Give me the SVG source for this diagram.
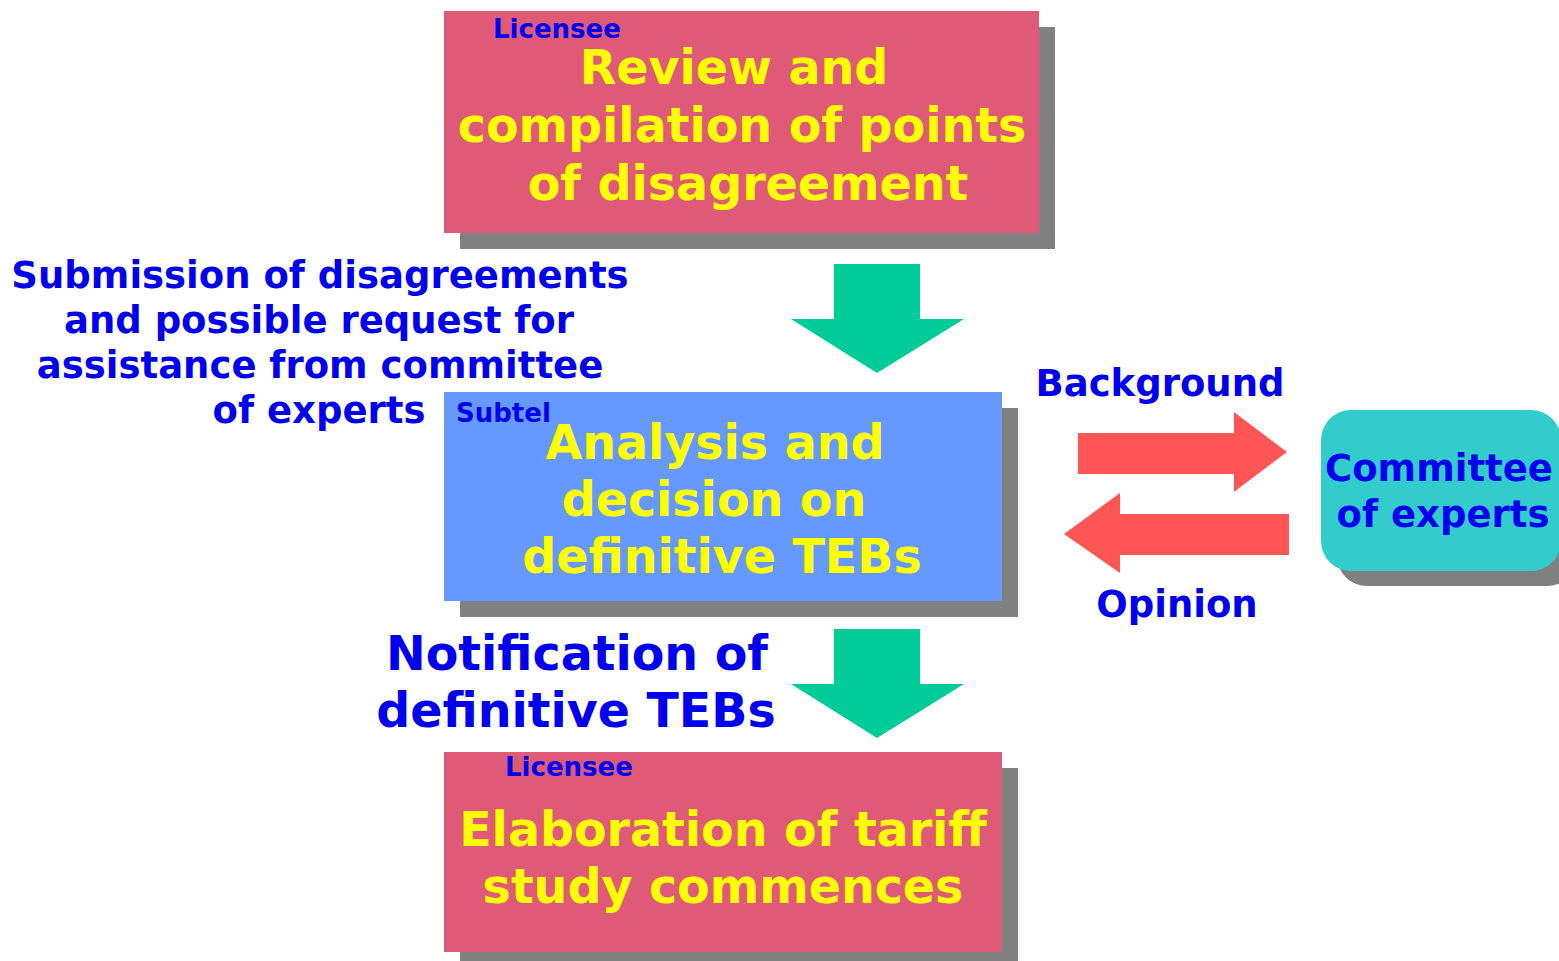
<svg xmlns="http://www.w3.org/2000/svg" width="1559" height="961" viewBox="0 0 1559 961">
<style>
.t{font-family:"DejaVu Sans","Verdana",sans-serif;font-weight:bold;}
.y{fill:#FFFF00;font-size:47.5px;text-anchor:middle;}
.b{fill:#0000EE;}
.sm{font-size:26px;}
.lb{font-size:37px;text-anchor:middle;}
.big{font-size:47.5px;text-anchor:middle;}
.sh{fill:#808080;}
.green{fill:#00CC99;}
.red{fill:#FF5555;}
</style>
<rect width="1559" height="961" fill="#FFFFFF"/>
<g id="node-review">
<rect class="sh" x="460" y="27" width="595" height="222"/>
<rect x="444" y="11" width="595" height="222" fill="#DE5A77"/>
<text class="t b sm" x="493" y="38">Licensee</text>
<text class="t y" x="734" y="84">Review and</text>
<text class="t y" x="742" y="142">compilation of points</text>
<text class="t y" x="748" y="200">of disagreement</text>
</g>
<g id="node-analysis">
<rect class="sh" x="460" y="408" width="558" height="209"/>
<rect x="444" y="392" width="558" height="209" fill="#6699FF"/>
<text class="t b sm" x="456" y="422">Subtel</text>
<text class="t y" x="715" y="459">Analysis and</text>
<text class="t y" x="714" y="516">decision on</text>
<text class="t y" x="722" y="573">definitive TEBs</text>
</g>
<g id="node-elaboration">
<rect class="sh" x="460" y="768" width="558" height="200"/>
<rect x="444" y="752" width="558" height="200" fill="#DE5A77"/>
<text class="t b sm" x="505" y="776">Licensee</text>
<text class="t y" x="723" y="846">Elaboration of tariff</text>
<text class="t y" x="723" y="903">study commences</text>
</g>
<g id="node-committee">
<rect class="sh" x="1337" y="426" width="240" height="160" rx="30"/>
<rect x="1321" y="410" width="240" height="161" rx="30" fill="#33CCCC"/>
<text class="t b lb" x="1439" y="481">Committee</text>
<text class="t b lb" x="1443" y="527">of experts</text>
</g>
<g id="connectors">
<polygon class="green" points="834,264 920,264 920,319 964,319 877,373 791,319 834,319"/>
<polygon class="green" points="834,629 920,629 920,684 964,684 877,738 791,684 834,684"/>
<polygon class="red" points="1078,433 1234,433 1234,412 1287,452 1234,492 1234,474 1078,474"/>
<polygon class="red" points="1289,514 1120,514 1120,493 1064,534 1120,573 1120,555 1289,555"/>
</g>
<g id="labels">
<text class="t b lb" x="320" y="288">Submission of disagreements</text>
<text class="t b lb" x="319" y="333">and possible request for</text>
<text class="t b lb" x="320" y="378">assistance from committee</text>
<text class="t b lb" x="319" y="423">of experts</text>
<text class="t b big" x="577" y="670">Notification of</text>
<text class="t b big" x="576" y="727">definitive TEBs</text>
<text class="t b lb" x="1160" y="396">Background</text>
<text class="t b lb" x="1177" y="617">Opinion</text>
</g>
</svg>
